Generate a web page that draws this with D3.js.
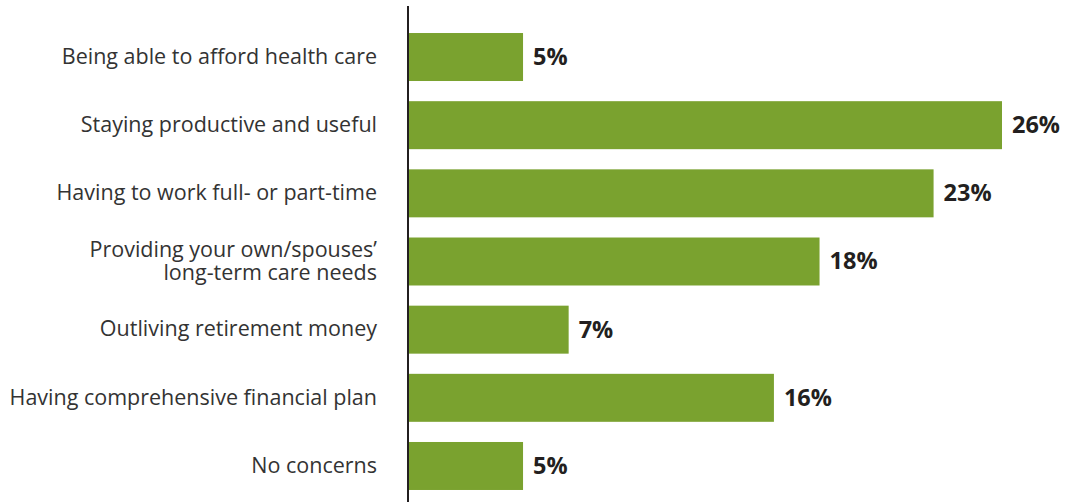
<!DOCTYPE html>
<html>
<head>
<meta charset="utf-8">
<script src="https://cdn.jsdelivr.net/npm/d3@7"></script>
<style>
  html, body { margin: 0; padding: 0; background: #fff; }
  svg { display: block; }
</style>
</head>
<body>
<svg id="chart" width="1067" height="502"></svg>
<script>
// Retirement concerns, share of respondents (%)
const categories = [
  "Being able to afford health care",
  "Staying productive and useful",
  "Having to work full- or part-time",
  "Providing your own/spouses’\nlong-term care needs",
  "Outliving retirement money",
  "Having comprehensive financial plan",
  "No concerns"
];
const values = [5, 26, 23, 18, 7, 16, 5];

const svg = d3.select("#chart");
const x0 = 409;

const x = d3.scaleLinear().domain([0, 26]).range([x0, 1002]);
const y = d3.scaleBand()
  .domain(categories)
  .range([23, 500])
  .paddingInner(0.296)
  .paddingOuter(0.147);

const data = categories.map((c, i) => ({ c, v: values[i] }));

svg.append("g").selectAll("rect")
  .data(data)
  .join("rect")
  .attr("x", x(0))
  .attr("y", d => y(d.c))
  .attr("width", d => x(d.v) - x(0))
  .attr("height", y.bandwidth())
  .attr("fill", "#7aa22f");

// value labels
svg.append("g").selectAll("text")
  .data(data)
  .join("text")
  .attr("x", d => x(d.v) + 10)
  .attr("y", d => y(d.c) + y.bandwidth() / 2)
  .attr("dy", "0.34em")
  .attr("font-family", "'Open Sans', sans-serif")
  .attr("font-weight", "bold")
  .attr("font-size", 23.5)
  .attr("fill", "#231f20")
  .text(d => d.v + "%");

// category labels
const lab = svg.append("g").selectAll("text")
  .data(data)
  .join("text")
  .attr("text-anchor", "end")
  .attr("font-family", "'Open Sans', sans-serif")
  .attr("font-size", 21.5)
  .attr("fill", "#333")
  .attr("transform", d => `translate(377,${y(d.c) + y.bandwidth() / 2 - 1})`);

lab.each(function(d) {
  const lines = d.c.split("\n");
  const lh = 23;
  const t = d3.select(this);
  lines.forEach((ln, i) => {
    t.append("tspan")
      .attr("x", 0)
      .attr("y", (i - (lines.length - 1) / 2) * lh)
      .attr("dy", "0.36em")
      .text(ln);
  });
});

// vertical axis line
svg.append("line")
  .attr("x1", 408).attr("x2", 408)
  .attr("y1", 6).attr("y2", 502)
  .attr("stroke", "#231f20")
  .attr("stroke-width", 2);
</script>
</body>
</html>
